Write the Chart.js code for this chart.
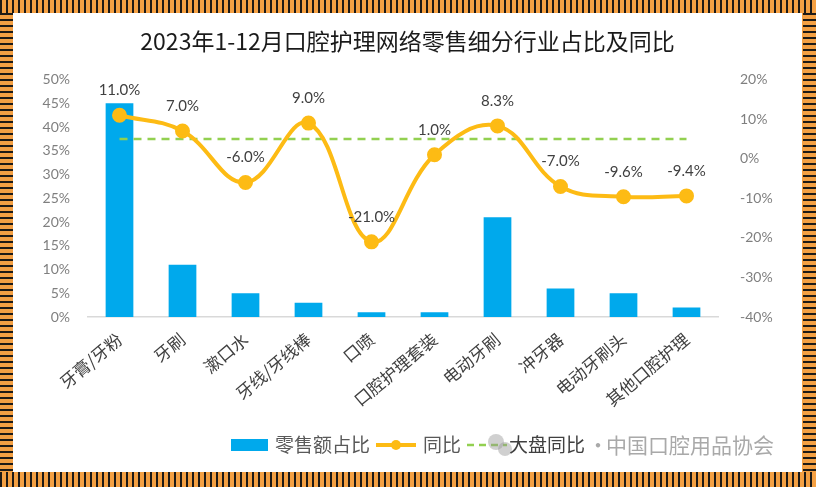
<!DOCTYPE html>
<html>
<head>
<meta charset="utf-8">
<script src="https://cdn.jsdelivr.net/npm/chart.js@4.4.1/dist/chart.umd.min.js"></script>
<style>
    html, body { margin: 0; padding: 0; }
    body {
        width: 816px; height: 487px; position: relative; overflow: hidden;
        background: repeating-linear-gradient(90deg, #1e1a16 0 2px, #f4a043 2px 6px);
    }
    .side {
        position: absolute; top: 13px; bottom: 15px; width: 13px;
        background: repeating-linear-gradient(180deg, #1e1a16 0 2px, #f4a043 2px 6px);
    }
    #frame { position: absolute; left: 13px; top: 13px; width: 789px; height: 459px; background: #fff; }
</style>
</head>
<body>
<div class="side" style="left:0"></div>
<div class="side" style="right:0"></div>
<div id="frame"><canvas id="chart" width="789" height="459"></canvas></div>
<script>
// Categories and series
const categories = ['牙膏/牙粉', '牙刷', '漱口水', '牙线/牙线棒', '口喷', '口腔护理套装', '电动牙刷', '冲牙器', '电动牙刷头', '其他口腔护理'];
const shareValues = [45, 11, 5, 3, 1, 1, 21, 6, 5, 2];           // 零售额占比 (%)
const yoyValues = [11.0, 7.0, -6.0, 9.0, -21.0, 1.0, 8.3, -7.0, -9.6, -9.4]; // 同比 (%)
const marketValues = [5, 5, 5, 5, 5, 5, 5, 5, 5, 5];             // 大盘同比 (%)
const seriesNames = ['零售额占比', '同比', '大盘同比'];

const BLUE = '#00a9ec';
const GOLD = '#fdbb14';
const GREEN = '#92d050';
const NUM_FONT = 'Lato, "Noto Sans", sans-serif';
const CJK_FONT = '"Noto Sans CJK SC", "Noto Sans", sans-serif';

// Percent labels above the yoy points
const pointLabels = {
    id: 'pointLabels',
    afterDatasetsDraw(chart) {
        const ctx = chart.ctx;
        const meta = chart.getDatasetMeta(1);
        ctx.save();
        ctx.font = '15px ' + NUM_FONT;
        ctx.fillStyle = '#404040';
        ctx.textAlign = 'center';
        ctx.textBaseline = 'middle';
        meta.data.forEach((pt, i) => {
            ctx.fillText(yoyValues[i].toFixed(1) + '%', pt.x, pt.y - 25);
        });
        ctx.restore();
    }
};

// Legend row at the bottom, plus the faint source watermark
const bottomLegend = {
    id: 'bottomLegend',
    afterDraw(chart) {
        const ctx = chart.ctx;
        const y = 432;
        let x = 218;
        ctx.save();
        ctx.font = '19px ' + CJK_FONT;
        ctx.textBaseline = 'middle';

        // bar swatch
        ctx.fillStyle = BLUE;
        ctx.fillRect(x, y - 6, 37, 12);
        x += 44;
        ctx.fillStyle = '#595959';
        ctx.fillText(seriesNames[0], x, y);
        x += ctx.measureText(seriesNames[0]).width + 6;

        // line with point
        ctx.strokeStyle = GOLD;
        ctx.lineWidth = 4;
        ctx.beginPath(); ctx.moveTo(x, y); ctx.lineTo(x + 40, y); ctx.stroke();
        ctx.fillStyle = GOLD;
        ctx.beginPath(); ctx.arc(x + 20, y, 5, 0, Math.PI * 2); ctx.fill();
        x += 47;
        ctx.fillStyle = '#595959';
        ctx.fillText(seriesNames[1], x, y);
        x += ctx.measureText(seriesNames[1]).width + 6;

        // dashed line
        ctx.strokeStyle = GREEN;
        ctx.lineWidth = 2.5;
        ctx.setLineDash([7, 5]);
        ctx.beginPath(); ctx.moveTo(x, y); ctx.lineTo(x + 40, y); ctx.stroke();
        ctx.setLineDash([]);
        x += 42;

        // watermark icon sits behind the last legend label
        ctx.fillStyle = 'rgba(150,150,150,0.45)';
        ctx.beginPath(); ctx.arc(x - 13, y - 3, 8, 0, Math.PI * 2); ctx.fill();
        ctx.beginPath(); ctx.arc(x - 4, y + 4, 7, 0, Math.PI * 2); ctx.fill();

        ctx.fillStyle = '#404040';
        ctx.fillText(seriesNames[2], x, y);

        ctx.font = '21px ' + CJK_FONT;
        ctx.fillStyle = '#a9a9a9';
        ctx.textAlign = 'center';
        ctx.fillText('·', 585, y);
        ctx.textAlign = 'left';
        ctx.fillText('中国口腔用品协会', 593, y);
        ctx.restore();
    }
};

new Chart(document.getElementById('chart').getContext('2d'), {
    data: {
        labels: categories,
        datasets: [
            {
                type: 'bar',
                label: seriesNames[0],
                data: shareValues,
                backgroundColor: BLUE,
                yAxisID: 'y',
                categoryPercentage: 1,
                barPercentage: 0.44,
                order: 2
            },
            {
                type: 'line',
                label: seriesNames[1],
                data: yoyValues,
                borderColor: GOLD,
                backgroundColor: GOLD,
                borderWidth: 4,
                pointRadius: 5.5,
                tension: 0.4,
                yAxisID: 'y1',
                order: 0
            },
            {
                type: 'line',
                label: seriesNames[2],
                data: marketValues,
                borderColor: GREEN,
                borderWidth: 2.5,
                borderDash: [8, 6],
                pointRadius: 0,
                yAxisID: 'y1',
                order: 1
            }
        ]
    },
    options: {
        responsive: false,
        animation: false,
        layout: { padding: { bottom: 52 } },
        plugins: {
            legend: { display: false },
            tooltip: { enabled: false },
            title: {
                display: true,
                text: '2023年1-12月口腔护理网络零售细分行业占比及同比',
                color: '#1a1a1a',
                font: { family: CJK_FONT, size: 23, weight: 'normal', lineHeight: 1.2 },
                padding: { top: 14, bottom: 25 }
            }
        },
        scales: {
            x: {
                offset: true,
                grid: { display: false },
                border: { color: '#d9d9d9', width: 1.5 },
                ticks: {
                    color: '#404040',
                    font: { family: CJK_FONT, size: 17 },
                    minRotation: 40,
                    maxRotation: 40,
                    padding: 4,
                    autoSkip: false
                },
                afterFit(scale) { scale.height = 103; }
            },
            y: {
                position: 'left',
                min: 0,
                max: 50,
                grid: { display: false },
                border: { display: false },
                ticks: {
                    stepSize: 5,
                    color: '#7f7f7f',
                    padding: 10,
                    font: { family: NUM_FONT, size: 14 },
                    callback: v => v + '%'
                },
                afterFit(scale) { scale.width = 75; }
            },
            y1: {
                position: 'right',
                min: -40,
                max: 20,
                grid: { display: false },
                border: { display: false },
                ticks: {
                    stepSize: 10,
                    color: '#7f7f7f',
                    padding: 14,
                    font: { family: NUM_FONT, size: 14 },
                    callback: v => v + '%'
                },
                afterFit(scale) { scale.width = 84; }
            }
        }
    },
    plugins: [pointLabels, bottomLegend]
});
</script>
</body>
</html>
